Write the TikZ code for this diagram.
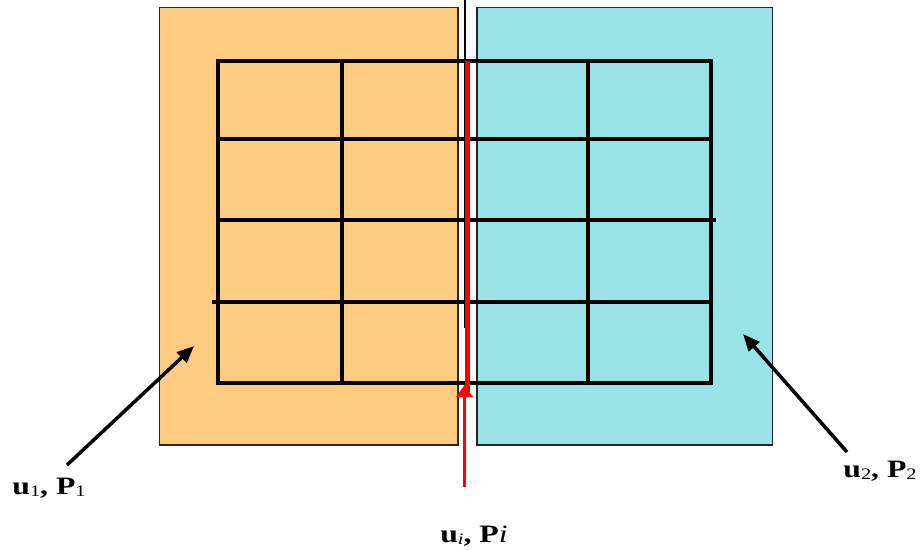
\documentclass[tikz,border=0pt]{standalone}
\usepackage{fontspec}
\setmainfont{Liberation Serif}
\usetikzlibrary{arrows.meta}
\definecolor{orangefill}{RGB}{255,203,128}
\definecolor{cyanfill}{RGB}{153,227,230}
\definecolor{arrred}{RGB}{255,0,0}
\newcommand\mysub[1]{\raisebox{-2pt}{\fontsize{16}{16}\selectfont\mdseries #1}}
\newcommand\mylab[1]{\scalebox{1.27}[1]{\fontsize{25}{27}\selectfont\bfseries #1}}
\tikzset{
  region/.style={draw=black!85, line width=1.2pt},
  gridline/.style={line width=4pt, line cap=rect},
  blackarrow/.style={line width=3.5pt, -{Triangle[length=17pt,width=14pt]}},
  lbl/.style={inner sep=0pt, anchor=base},
}
\begin{document}
\begin{tikzpicture}[x=1pt,y=-1pt]
\useasboundingbox (0,0) rectangle (920,549);
% regions
\draw[region, fill=orangefill] (159.5,7.5) rectangle (458,445);
\draw[region, fill=cyanfill] (477,7.5) rectangle (772.5,445);
% grid
\foreach \x in {218,342,588,711} \draw[gridline] (\x,61) -- (\x,383);
\foreach \y in {61,139,383} \draw[gridline] (218,\y) -- (711,\y);
\draw[gridline] (218,220) -- (714,220);
\draw[gridline] (214,302) -- (711,302);
% thin black interface line
\draw[line width=2pt] (464.5,0) -- (464.5,328);
% labels
\node[lbl] (l1) at (49,494) {\mylab{u\mysub{1}, P\mysub{1}}};
\node[lbl] (l2) at (880,477) {\mylab{u\mysub{2}, P\mysub{2}}};
\node[lbl] (li) at (474,542) {\mylab{u\mysub{\itshape i}, P{\mdseries\itshape i}}};
% arrow coordinates
\coordinate (t1) at (67,465);
\coordinate (h1) at (194,346);
\coordinate (t2) at (847,452);
\coordinate (h2) at (743,334);
\coordinate (ti) at (464.5,487);
\coordinate (hi) at (464.5,385);
\coordinate (bartop) at (467.5,61);
\coordinate (barbot) at (467.5,392);
\draw[blackarrow] (t1) -- (h1);
\draw[blackarrow] (t2) -- (h2);
% red arrow
\draw[arrred, line width=5pt] (barbot) -- (bartop);
\draw[arrred, line width=3pt, -{Triangle[length=12pt,width=16pt]}] (ti) -- (hi);
\end{tikzpicture}
\end{document}
